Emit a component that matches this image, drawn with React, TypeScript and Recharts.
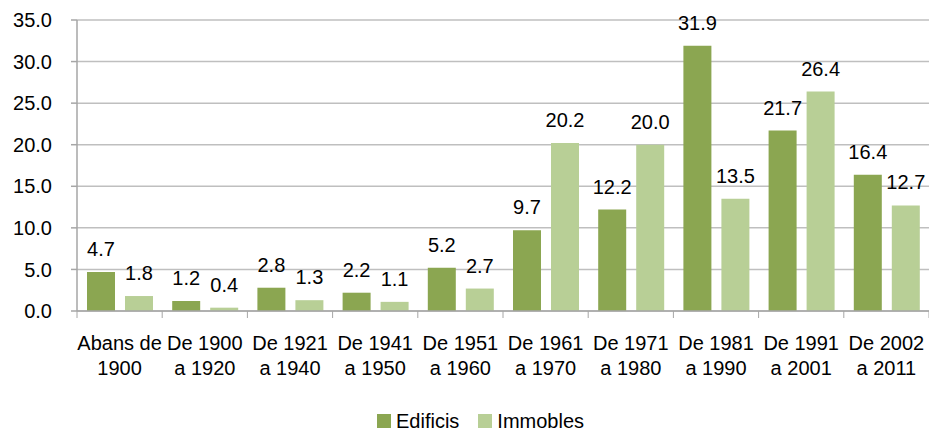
import { Bar, BarChart, CartesianGrid, LabelList, Legend, XAxis, YAxis } from 'recharts';

const periodes = [
  ['Abans de', '1900'],
  ['De 1900', 'a 1920'],
  ['De 1921', 'a 1940'],
  ['De 1941', 'a 1950'],
  ['De 1951', 'a 1960'],
  ['De 1961', 'a 1970'],
  ['De 1971', 'a 1980'],
  ['De 1981', 'a 1990'],
  ['De 1991', 'a 2001'],
  ['De 2002', 'a 2011'],
];

const edificis = [4.7, 1.2, 2.8, 2.2, 5.2, 9.7, 12.2, 31.9, 21.7, 16.4];
const immobles = [1.8, 0.4, 1.3, 1.1, 2.7, 20.2, 20.0, 13.5, 26.4, 12.7];

const yTicks = [0, 5, 10, 15, 20, 25, 30, 35];

const COR_EDIFICIS = '#8BA651';
const COR_IMMOBLES = '#B8CF96';
const FONT = '"Liberation Sans", Arial, sans-serif';

const dades = periodes.map((p, i) => ({
  periode: p.join(' '),
  linies: p,
  edificis: edificis[i],
  immobles: immobles[i],
}));

// tick amb dues línies i marques a les vores de cada categoria
function TickCategoria(props: any) {
  const { x, y, payload, index, visibleTicksCount } = props;
  const meitat = payload.offset || 42.6;
  const linies = dades[index]?.linies ?? [payload.value];
  const yEix = y - 8;
  return (
    <g>
      <line x1={x - meitat} x2={x - meitat} y1={yEix} y2={yEix + 7} stroke="#A6A6A6" />
      {index === visibleTicksCount - 1 && (
        <line x1={x + meitat} x2={x + meitat} y1={yEix} y2={yEix + 7} stroke="#A6A6A6" />
      )}
      <text x={x} y={yEix + 39} textAnchor="middle" fill="#000" fontSize={20} fontFamily={FONT}>
        {linies[0]}
        {linies[1] && (
          <tspan x={x} dy={25}>
            {linies[1]}
          </tspan>
        )}
      </text>
    </g>
  );
}

function Llegenda() {
  const items = [
    { nom: 'Edificis', color: COR_EDIFICIS },
    { nom: 'Immobles', color: COR_IMMOBLES },
  ];
  return (
    <div
      style={{
        display: 'flex',
        justifyContent: 'center',
        paddingTop: 28,
        paddingLeft: 32,
        height: 22,
        fontFamily: FONT,
        fontSize: 20,
        color: '#000',
      }}
    >
      {items.map((it, i) => (
        <div
          key={it.nom}
          style={{ display: 'flex', alignItems: 'center', marginRight: i < items.length - 1 ? 19 : 0 }}
        >
          <span style={{ width: 14, height: 14, background: it.color, marginRight: 5, display: 'inline-block' }} />
          <span style={{ lineHeight: '22px' }}>{it.nom}</span>
        </div>
      ))}
    </div>
  );
}

export default function App() {
  return (
    <div style={{ position: 'absolute', left: 0, top: 0, width: 929, height: 432, background: '#fff' }}>
      <BarChart
        width={929}
        height={432}
        data={dades}
        margin={{ top: 20, right: 0, left: 0, bottom: 0 }}
        barGap={10}
      >
        <CartesianGrid vertical={false} stroke="#BFBFBF" strokeWidth={1.5} />
        <XAxis
          dataKey="periode"
          interval={0}
          height={71}
          tickLine={false}
          axisLine={{ stroke: '#A6A6A6', strokeWidth: 1.5 }}
          tick={<TickCategoria />}
        />
        <YAxis
          width={77}
          domain={[0, 35]}
          ticks={yTicks}
          interval={0}
          tickFormatter={(v: number) => v.toFixed(1)}
          axisLine={{ stroke: '#A6A6A6', strokeWidth: 1.5 }}
          tickLine={{ stroke: '#A6A6A6', strokeWidth: 1.5 }}
          tickSize={6}
          tickMargin={19}
          tick={{ fontSize: 20, fill: '#000', fontFamily: FONT }}
        />
        <Legend verticalAlign="bottom" content={<Llegenda />} />
        <Bar dataKey="edificis" name="Edificis" fill={COR_EDIFICIS} barSize={28} isAnimationActive={false}>
          <LabelList
            dataKey="edificis"
            position="top"
            offset={16}
            formatter={(v: number) => v.toFixed(1)}
            style={{ fontSize: 20, fill: '#000', fontFamily: FONT }}
          />
        </Bar>
        <Bar dataKey="immobles" name="Immobles" fill={COR_IMMOBLES} barSize={28} isAnimationActive={false}>
          <LabelList
            dataKey="immobles"
            position="top"
            offset={16}
            formatter={(v: number) => v.toFixed(1)}
            style={{ fontSize: 20, fill: '#000', fontFamily: FONT }}
          />
        </Bar>
      </BarChart>
    </div>
  );
}
